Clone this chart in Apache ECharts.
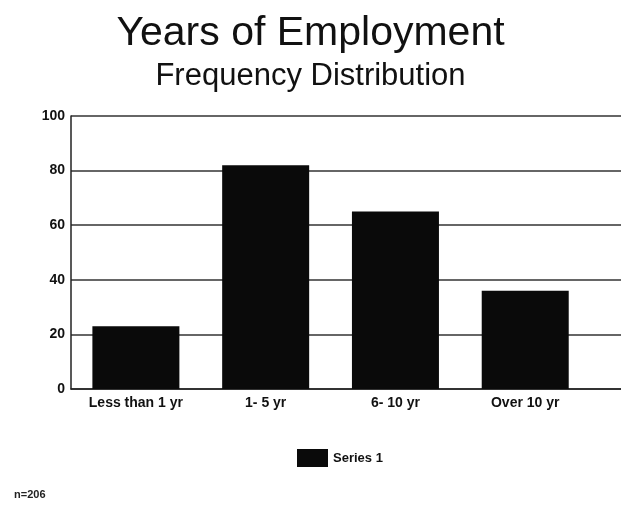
<!DOCTYPE html>
<html>
<head>
<meta charset="utf-8">
<script src="https://cdn.jsdelivr.net/npm/echarts@6/dist/echarts.min.js"></script>
<style>
  html, body { margin: 0; padding: 0; background: #fff; }
  #chart { width: 621px; height: 506px; }
</style>
</head>
<body>
<div id="chart"></div>
<script>
// data
const categories = ['Less than 1 yr', '1- 5 yr', '6- 10 yr', 'Over 10 yr'];
const series1 = [23, 82, 65, 36];
const yTicks = [0, 20, 40, 60, 80, 100];

const chart = echarts.init(document.getElementById('chart'));

// bars sit on a value x axis so gridlines can run to the right edge
const barData = series1.map((v, i) => [i, v]);

chart.setOption({
  animation: false,
  title: [
    {
      text: 'Years of Employment',
      left: 'center',
      top: 8,
      textStyle: { fontFamily: 'Liberation Sans', fontSize: 41, fontWeight: 'normal', color: '#111' }
    },
    {
      text: 'Frequency Distribution',
      left: 'center',
      top: 56,
      textStyle: { fontFamily: 'Liberation Sans', fontSize: 31, fontWeight: 'normal', color: '#111' }
    },
    {
      text: 'n=206',
      left: 9,
      top: 484,
      textStyle: { fontFamily: 'Liberation Sans', fontSize: 11, fontWeight: 'bold', color: '#222' }
    }
  ],
  legend: {
    data: ['Series 1'],
    icon: 'rect',
    left: 292,
    top: 444,
    itemWidth: 31,
    itemHeight: 18,
    itemGap: 6,
    textStyle: { fontFamily: 'Liberation Sans Narrow, Liberation Sans', fontSize: 13, fontWeight: 'bold', color: '#111' }
  },
  grid: { left: 71, right: 0, top: 116, bottom: 117 },
  xAxis: {
    type: 'value',
    min: -0.5,
    max: 3.738,
    splitLine: { show: false },
    axisLine: { show: true, onZero: false, lineStyle: { color: '#222', width: 1.5 } },
    axisTick: { show: false },
    axisLabel: {
      customValues: [0, 1, 2, 3],
      formatter: v => categories[Math.round(v)],
      fontFamily: 'Liberation Sans Narrow, Liberation Sans',
      fontSize: 14,
      fontWeight: 'bold',
      color: '#111',
      margin: 7
    }
  },
  yAxis: {
    type: 'value',
    min: 0,
    max: 100,
    interval: 20,
    axisLine: { show: true, onZero: false, lineStyle: { color: '#222', width: 1.5 } },
    axisTick: { show: false },
    splitLine: { show: true, lineStyle: { color: '#333', width: 1.5 } },
    axisLabel: {
      customValues: yTicks,
      fontFamily: 'Liberation Sans',
      fontSize: 14,
      fontWeight: 'bold',
      color: '#111',
      margin: 6
    }
  },
  series: [
    {
      name: 'Series 1',
      type: 'bar',
      data: barData,
      barWidth: 87,
      itemStyle: { color: '#0a0a0a' }
    }
  ]
});
</script>
</body>
</html>
